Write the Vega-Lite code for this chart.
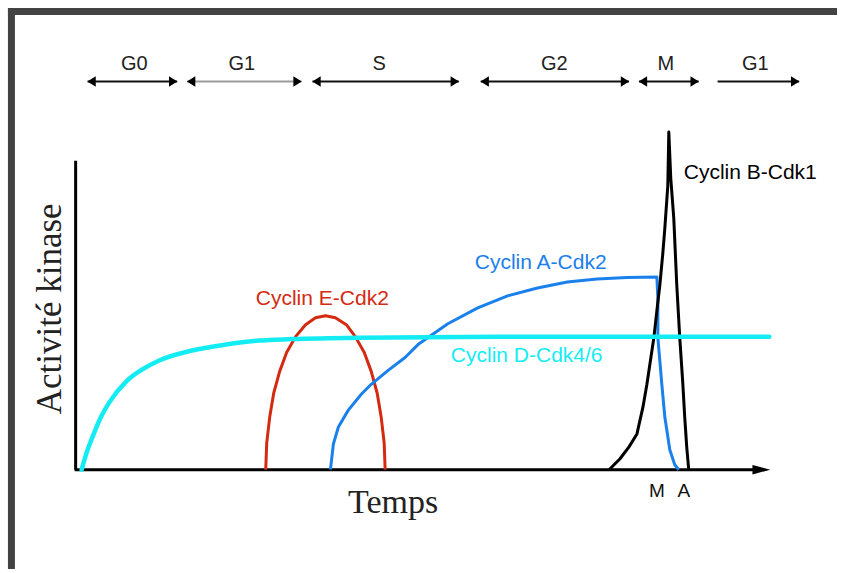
{
  "$schema": "https://vega.github.io/schema/vega-lite/v6.json",
  "width": 841,
  "height": 573,
  "autosize": {"type": "fit", "contains": "padding"},
  "padding": 0,
  "background": "white",
  "config": {"view": {"stroke": null}},
  "datasets": {
    "frame": [
      {"part": "haut", "t": -68, "a": 461.5, "t2": 765, "a2": 461.5},
      {"part": "gauche", "t": -64.5, "a": 465, "t2": -64.5, "a2": -100}
    ],
    "axes": [
      {"part": "y", "t": 0, "a": 0, "t2": 0, "a2": 311},
      {"part": "x", "t": -1, "a": 0, "t2": 684, "a2": 0}
    ],
    "phases": [
      {"ph": "G0", "t": 12, "t2": 102, "a": 391, "c": "noir", "mid": 59},
      {"ph": "G1", "t": 112, "t2": 227, "a": 391, "c": "gris", "mid": 167},
      {"ph": "S", "t": 238, "t2": 385, "a": 391, "c": "noir", "mid": 305},
      {"ph": "G2", "t": 407, "t2": 556, "a": 391, "c": "noir", "mid": 481},
      {"ph": "M", "t": 566, "t2": 626, "a": 391, "c": "noir", "mid": 593},
      {"ph": "G1", "t": 645, "t2": 727, "a": 391, "c": "noir", "mid": 683}
    ],
    "heads": [
      {"t": 16, "a": 391, "dir": "L"}, {"t": 98, "a": 391, "dir": "R"},
      {"t": 116, "a": 391, "dir": "L"}, {"t": 223, "a": 391, "dir": "R"},
      {"t": 242, "a": 391, "dir": "L"}, {"t": 381, "a": 391, "dir": "R"},
      {"t": 411, "a": 391, "dir": "L"}, {"t": 552, "a": 391, "dir": "R"},
      {"t": 570, "a": 391, "dir": "L"}, {"t": 622, "a": 391, "dir": "R"},
      {"t": 723, "a": 391, "dir": "R"},
      {"t": 689, "a": 0, "dir": "X"}
    ],
    "curves": [
      {"s": "Cyclin D-Cdk4/6", "i": 0, "t": 6, "a": 0},
      {"s": "Cyclin D-Cdk4/6", "i": 1, "t": 11, "a": 17},
      {"s": "Cyclin D-Cdk4/6", "i": 2, "t": 17, "a": 33},
      {"s": "Cyclin D-Cdk4/6", "i": 3, "t": 24, "a": 50},
      {"s": "Cyclin D-Cdk4/6", "i": 4, "t": 34, "a": 68},
      {"s": "Cyclin D-Cdk4/6", "i": 5, "t": 51, "a": 89},
      {"s": "Cyclin D-Cdk4/6", "i": 6, "t": 67, "a": 101},
      {"s": "Cyclin D-Cdk4/6", "i": 7, "t": 84, "a": 110},
      {"s": "Cyclin D-Cdk4/6", "i": 8, "t": 117, "a": 120},
      {"s": "Cyclin D-Cdk4/6", "i": 9, "t": 151, "a": 126},
      {"s": "Cyclin D-Cdk4/6", "i": 10, "t": 184, "a": 130},
      {"s": "Cyclin D-Cdk4/6", "i": 11, "t": 217, "a": 131.5},
      {"s": "Cyclin D-Cdk4/6", "i": 12, "t": 284, "a": 133},
      {"s": "Cyclin D-Cdk4/6", "i": 13, "t": 424, "a": 134},
      {"s": "Cyclin D-Cdk4/6", "i": 14, "t": 697, "a": 134},
      {"s": "Cyclin E-Cdk2", "i": 0, "t": 191, "a": 0},
      {"s": "Cyclin E-Cdk2", "i": 1, "t": 192, "a": 27},
      {"s": "Cyclin E-Cdk2", "i": 2, "t": 195, "a": 53},
      {"s": "Cyclin E-Cdk2", "i": 3, "t": 199, "a": 77},
      {"s": "Cyclin E-Cdk2", "i": 4, "t": 205, "a": 99},
      {"s": "Cyclin E-Cdk2", "i": 5, "t": 212, "a": 118},
      {"s": "Cyclin E-Cdk2", "i": 6, "t": 221, "a": 134},
      {"s": "Cyclin E-Cdk2", "i": 7, "t": 231, "a": 146},
      {"s": "Cyclin E-Cdk2", "i": 8, "t": 241, "a": 153},
      {"s": "Cyclin E-Cdk2", "i": 9, "t": 251, "a": 155},
      {"s": "Cyclin E-Cdk2", "i": 10, "t": 261, "a": 153},
      {"s": "Cyclin E-Cdk2", "i": 11, "t": 272, "a": 146},
      {"s": "Cyclin E-Cdk2", "i": 12, "t": 281, "a": 134},
      {"s": "Cyclin E-Cdk2", "i": 13, "t": 290, "a": 118},
      {"s": "Cyclin E-Cdk2", "i": 14, "t": 297, "a": 99},
      {"s": "Cyclin E-Cdk2", "i": 15, "t": 303, "a": 77},
      {"s": "Cyclin E-Cdk2", "i": 16, "t": 307, "a": 53},
      {"s": "Cyclin E-Cdk2", "i": 17, "t": 310, "a": 27},
      {"s": "Cyclin E-Cdk2", "i": 18, "t": 311, "a": 0},
      {"s": "Cyclin A-Cdk2", "i": 0, "t": 256, "a": 0},
      {"s": "Cyclin A-Cdk2", "i": 1, "t": 259, "a": 26},
      {"s": "Cyclin A-Cdk2", "i": 2, "t": 264, "a": 43},
      {"s": "Cyclin A-Cdk2", "i": 3, "t": 274, "a": 60},
      {"s": "Cyclin A-Cdk2", "i": 4, "t": 287, "a": 76},
      {"s": "Cyclin A-Cdk2", "i": 5, "t": 297, "a": 86},
      {"s": "Cyclin A-Cdk2", "i": 6, "t": 314, "a": 100},
      {"s": "Cyclin A-Cdk2", "i": 7, "t": 331, "a": 113},
      {"s": "Cyclin A-Cdk2", "i": 8, "t": 344, "a": 126},
      {"s": "Cyclin A-Cdk2", "i": 9, "t": 374, "a": 147},
      {"s": "Cyclin A-Cdk2", "i": 10, "t": 404, "a": 163},
      {"s": "Cyclin A-Cdk2", "i": 11, "t": 434, "a": 175},
      {"s": "Cyclin A-Cdk2", "i": 12, "t": 464, "a": 183},
      {"s": "Cyclin A-Cdk2", "i": 13, "t": 494, "a": 189},
      {"s": "Cyclin A-Cdk2", "i": 14, "t": 524, "a": 192},
      {"s": "Cyclin A-Cdk2", "i": 15, "t": 554, "a": 193.5},
      {"s": "Cyclin A-Cdk2", "i": 16, "t": 584, "a": 194},
      {"s": "Cyclin A-Cdk2", "i": 17, "t": 585, "a": 173},
      {"s": "Cyclin A-Cdk2", "i": 18, "t": 585, "a": 133},
      {"s": "Cyclin A-Cdk2", "i": 19, "t": 589, "a": 86},
      {"s": "Cyclin A-Cdk2", "i": 20, "t": 592, "a": 53},
      {"s": "Cyclin A-Cdk2", "i": 21, "t": 597, "a": 20},
      {"s": "Cyclin A-Cdk2", "i": 22, "t": 602, "a": 5},
      {"s": "Cyclin A-Cdk2", "i": 23, "t": 606, "a": 0},
      {"s": "Cyclin B-Cdk1", "i": 0, "t": 536, "a": 0},
      {"s": "Cyclin B-Cdk1", "i": 1, "t": 547, "a": 11},
      {"s": "Cyclin B-Cdk1", "i": 2, "t": 556, "a": 23},
      {"s": "Cyclin B-Cdk1", "i": 3, "t": 564, "a": 36},
      {"s": "Cyclin B-Cdk1", "i": 4, "t": 570, "a": 63},
      {"s": "Cyclin B-Cdk1", "i": 5, "t": 574, "a": 86},
      {"s": "Cyclin B-Cdk1", "i": 6, "t": 578, "a": 113},
      {"s": "Cyclin B-Cdk1", "i": 7, "t": 581, "a": 133},
      {"s": "Cyclin B-Cdk1", "i": 8, "t": 584, "a": 160},
      {"s": "Cyclin B-Cdk1", "i": 9, "t": 587, "a": 186},
      {"s": "Cyclin B-Cdk1", "i": 10, "t": 590, "a": 218},
      {"s": "Cyclin B-Cdk1", "i": 11, "t": 592, "a": 243},
      {"s": "Cyclin B-Cdk1", "i": 12, "t": 595, "a": 286},
      {"s": "Cyclin B-Cdk1", "i": 13, "t": 596, "a": 340},
      {"s": "Cyclin B-Cdk1", "i": 14, "t": 598, "a": 293},
      {"s": "Cyclin B-Cdk1", "i": 15, "t": 601, "a": 253},
      {"s": "Cyclin B-Cdk1", "i": 16, "t": 604, "a": 186},
      {"s": "Cyclin B-Cdk1", "i": 17, "t": 607, "a": 133},
      {"s": "Cyclin B-Cdk1", "i": 18, "t": 610, "a": 88},
      {"s": "Cyclin B-Cdk1", "i": 19, "t": 612, "a": 53},
      {"s": "Cyclin B-Cdk1", "i": 20, "t": 614, "a": 23},
      {"s": "Cyclin B-Cdk1", "i": 21, "t": 616, "a": 0}
    ],
    "labels": [
      {"s": "Cyclin B-Cdk1", "txt": "Cyclin B-Cdk1", "t": 611, "a": 299},
      {"s": "Cyclin A-Cdk2", "txt": "Cyclin A-Cdk2", "t": 401, "a": 208},
      {"s": "Cyclin E-Cdk2", "txt": "Cyclin E-Cdk2", "t": 181, "a": 172},
      {"s": "Cyclin D-Cdk4/6", "txt": "Cyclin D-Cdk4/6", "t": 377, "a": 114}
    ],
    "marks": [
      {"txt": "M", "t": 584, "a": -21},
      {"txt": "A", "t": 611, "a": -21}
    ],
    "titles": [
      {"txt": "Temps", "t": 319, "a": -34}
    ],
    "ytitle": [
      {"txt": "Activité kinase", "t": -26, "a": 162}
    ]
  },
  "layer": [
    {
      "data": {"name": "frame"},
      "mark": {"type": "rule", "strokeWidth": 7, "color": "#434343"},
      "encoding": {
        "x": {"field": "t", "type": "quantitative", "scale": {"domain": [-76, 765], "nice": false, "zero": false}, "axis": null},
        "y": {"field": "a", "type": "quantitative", "scale": {"domain": [-100, 473], "nice": false, "zero": false}, "axis": null},
        "x2": {"field": "t2"},
        "y2": {"field": "a2"}
      }
    },
    {
      "data": {"name": "axes"},
      "mark": {"type": "rule", "strokeWidth": 3, "color": "#000000"},
      "encoding": {
        "x": {"field": "t", "type": "quantitative"},
        "y": {"field": "a", "type": "quantitative"},
        "x2": {"field": "t2"},
        "y2": {"field": "a2"}
      }
    },
    {
      "data": {"name": "phases"},
      "mark": {"type": "rule", "strokeWidth": 2},
      "encoding": {
        "x": {"field": "t", "type": "quantitative"},
        "y": {"field": "a", "type": "quantitative"},
        "x2": {"field": "t2"},
        "color": {"field": "c", "type": "nominal", "scale": {"domain": ["Cyclin D-Cdk4/6", "Cyclin E-Cdk2", "Cyclin A-Cdk2", "Cyclin B-Cdk1", "noir", "gris"], "range": ["#14ecf4", "#d42a12", "#1a80ec", "#000000", "#111111", "#9a9a9a"]}, "legend": null}
      }
    },
    {
      "data": {"name": "phases"},
      "mark": {"type": "text", "font": "Liberation Sans", "fontSize": 20, "color": "#222222", "baseline": "middle", "align": "center"},
      "encoding": {
        "x": {"field": "mid", "type": "quantitative"},
        "y": {"datum": 409, "type": "quantitative"},
        "text": {"field": "ph"}
      }
    },
    {
      "data": {"name": "heads"},
      "mark": {"type": "point", "filled": true, "color": "#000000", "opacity": 1, "size": 110},
      "encoding": {
        "x": {"field": "t", "type": "quantitative"},
        "y": {"field": "a", "type": "quantitative"},
        "shape": {"field": "dir", "type": "nominal", "scale": {"domain": ["L", "R", "X"], "range": ["M0.8,-1L-0.8,0L0.8,1Z", "M-0.8,-1L0.8,0L-0.8,1Z", "M-1.7,-0.9L1.7,0L-1.7,0.9Z"]}, "legend": null}
      }
    },
    {
      "data": {"name": "curves"},
      "transform": [{"filter": "datum.s !== 'Cyclin D-Cdk4/6'"}],
      "mark": {"type": "line", "strokeWidth": 3, "interpolate": "linear", "strokeJoin": "round"},
      "encoding": {
        "x": {"field": "t", "type": "quantitative"},
        "y": {"field": "a", "type": "quantitative"},
        "order": {"field": "i", "type": "quantitative"},
        "detail": {"field": "s", "type": "nominal"},
        "color": {"field": "s", "type": "nominal", "legend": null}
      }
    },
    {
      "data": {"name": "curves"},
      "transform": [{"filter": "datum.s === 'Cyclin D-Cdk4/6'"}],
      "mark": {"type": "line", "strokeWidth": 4.5, "interpolate": "monotone", "strokeCap": "round"},
      "encoding": {
        "x": {"field": "t", "type": "quantitative"},
        "y": {"field": "a", "type": "quantitative"},
        "order": {"field": "i", "type": "quantitative"},
        "color": {"field": "s", "type": "nominal", "legend": null}
      }
    },
    {
      "data": {"name": "labels"},
      "mark": {"type": "text", "font": "Liberation Sans", "fontSize": 21, "align": "left", "baseline": "middle"},
      "encoding": {
        "x": {"field": "t", "type": "quantitative"},
        "y": {"field": "a", "type": "quantitative"},
        "text": {"field": "txt"},
        "color": {"field": "s", "type": "nominal", "legend": null}
      }
    },
    {
      "data": {"name": "marks"},
      "mark": {"type": "text", "font": "Liberation Sans", "fontSize": 19, "align": "center", "baseline": "middle", "color": "#111111"},
      "encoding": {
        "x": {"field": "t", "type": "quantitative"},
        "y": {"field": "a", "type": "quantitative"},
        "text": {"field": "txt"}
      }
    },
    {
      "data": {"name": "titles"},
      "mark": {"type": "text", "font": "Liberation Serif", "fontSize": 34, "align": "center", "baseline": "middle", "color": "#222222"},
      "encoding": {
        "x": {"field": "t", "type": "quantitative"},
        "y": {"field": "a", "type": "quantitative"},
        "text": {"field": "txt"}
      }
    },
    {
      "data": {"name": "ytitle"},
      "mark": {"type": "text", "font": "Liberation Serif", "fontSize": 35, "align": "center", "baseline": "middle", "angle": 270, "color": "#222222"},
      "encoding": {
        "x": {"field": "t", "type": "quantitative"},
        "y": {"field": "a", "type": "quantitative"},
        "text": {"field": "txt"}
      }
    }
  ]
}
